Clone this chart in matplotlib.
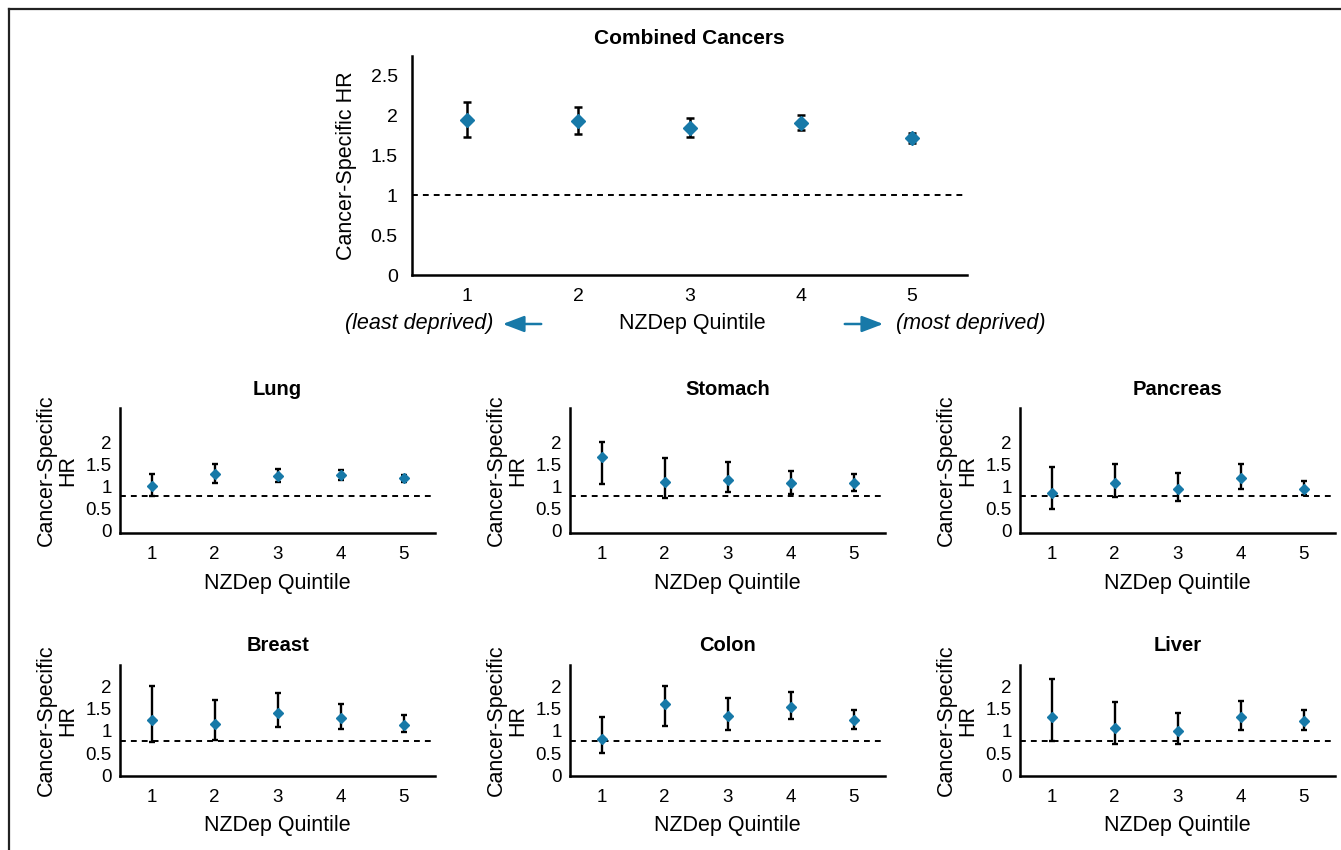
import matplotlib
matplotlib.use("Agg")
import matplotlib.pyplot as plt
from matplotlib.lines import Line2D
from matplotlib.patches import FancyArrowPatch

plt.rcParams['font.family'] = ['Liberation Sans', 'DejaVu Sans']

# ---------------- data ----------------
quintiles = [1, 2, 3, 4, 5]

combined_title = "Combined Cancers"
combined_hr = [1.94, 1.93, 1.845, 1.90, 1.72]
combined_lo = [1.73, 1.77, 1.725, 1.81, 1.65]
combined_hi = [2.17, 2.10, 1.97, 2.00, 1.78]
combined_ref = 1.0
combined_yticks = [0, 0.5, 1, 1.5, 2, 2.5]
combined_yticklabels = ["0", "0.5", "1", "1.5", "2", "2.5"]

site_titles = ["Lung", "Stomach", "Pancreas", "Breast", "Colon", "Liver"]
lung_hr = [1.02, 1.28, 1.24, 1.26, 1.19]
lung_lo = [0.79, 1.08, 1.10, 1.15, 1.10]
lung_hi = [1.28, 1.50, 1.40, 1.38, 1.27]
stomach_hr = [1.67, 1.10, 1.16, 1.07, 1.08]
stomach_lo = [1.05, 0.74, 0.87, 0.83, 0.91]
stomach_hi = [2.02, 1.64, 1.55, 1.36, 1.28]
pancreas_hr = [0.855, 1.08, 0.95, 1.20, 0.95]
pancreas_lo = [0.50, 0.77, 0.68, 0.95, 0.81]
pancreas_hi = [1.45, 1.50, 1.31, 1.50, 1.13]
breast_hr = [1.24, 1.16, 1.41, 1.29, 1.14]
breast_lo = [0.75, 0.80, 1.08, 1.05, 0.97]
breast_hi = [2.01, 1.70, 1.85, 1.60, 1.35]
colon_hr = [0.83, 1.61, 1.33, 1.54, 1.24]
colon_lo = [0.50, 1.12, 1.03, 1.27, 1.05]
colon_hi = [1.31, 2.00, 1.73, 1.88, 1.46]
liver_hr = [1.31, 1.07, 1.00, 1.32, 1.23]
liver_lo = [0.77, 0.70, 0.71, 1.03, 1.03]
liver_hi = [2.16, 1.64, 1.40, 1.68, 1.46]
small_ref = 0.78
small_yticks = [0, 0.5, 1, 1.5, 2]
small_yticklabels = ["0", "0.5", "1", "1.5", "2"]

xlabel = "NZDep Quintile"
ylabel_combined = "Cancer-Specific HR"
ylabel_small = "Cancer-Specific\nHR"
left_note = "(least deprived)"
right_note = "(most deprived)"

# ---------------- style ----------------
W, H = 1341, 850
BLUE = "#1779a8"

fig = plt.figure(figsize=(W / 100, H / 100), dpi=100)


def add_ax(left, right, top, bottom):
    return fig.add_axes([left / W, 1 - bottom / H, (right - left) / W, (bottom - top) / H])


def style_ax(ax, ylim, yticks, yticklabels, tick_fs, ypad):
    ax.set_xlim(0.5, 5.5)
    ax.set_ylim(*ylim)
    for s in ("top", "right"):
        ax.spines[s].set_visible(False)
    for s in ("left", "bottom"):
        ax.spines[s].set_linewidth(1.8)
        ax.spines[s].set_color("black")
    ax.set_xticks(quintiles)
    ax.set_xticklabels([str(q) for q in quintiles], fontsize=tick_fs)
    ax.set_yticks(yticks)
    ax.set_yticklabels(yticklabels, fontsize=tick_fs)
    ax.tick_params(axis="x", length=0, pad=9)
    ax.tick_params(axis="y", length=0, pad=ypad)


def draw_panel(ax, hr, lo, hi, ref, msize, cap, elw):
    ax.axhline(ref, color="black", lw=1.4, ls=(0, (3, 2.6)), zorder=1)
    yerr = [[h - l for h, l in zip(hr, lo)], [u - h for h, u in zip(hr, hi)]]
    ax.errorbar(quintiles, hr, yerr=yerr, fmt="none", ecolor="black",
                elinewidth=elw, capsize=cap, capthick=elw, zorder=2)
    ax.plot(quintiles, hr, ls="none", marker="D", ms=msize, color=BLUE,
            mec=BLUE, zorder=3)


# ---- combined panel ----
axc = add_ax(411.7, 967.3, 56, 275.3)
style_ax(axc, (0, 2.74), combined_yticks, combined_yticklabels, 14, 10)
draw_panel(axc, combined_hr, combined_lo, combined_hi, combined_ref, 7.5, 2.6, 1.8)
axc.set_title(combined_title, fontsize=15, fontweight="bold", pad=9)
axc.set_ylabel(ylabel_combined, fontsize=15.5, labelpad=10)

fig.text(692 / W, 1 - 323 / H, xlabel, fontsize=15.5, ha="center", va="center")
fig.text(493 / W, 1 - 323 / H, left_note, fontsize=15.5, style="italic",
         ha="right", va="center")
fig.text(896 / W, 1 - 323 / H, right_note, fontsize=15.5, style="italic",
         ha="left", va="center")
for x0, x1 in ((544, 500), (842, 886)):
    fig.patches.append(FancyArrowPatch((x0 / W, 1 - 324 / H), (x1 / W, 1 - 324 / H),
                                       transform=fig.transFigure,
                                       arrowstyle="-|>,head_length=1.0,head_width=0.38",
                                       mutation_scale=13, color=BLUE, lw=1.8))

# ---- small panels ----
small_data = [
    (lung_hr, lung_lo, lung_hi),
    (stomach_hr, stomach_lo, stomach_hi),
    (pancreas_hr, pancreas_lo, pancreas_hi),
    (breast_hr, breast_lo, breast_hi),
    (colon_hr, colon_lo, colon_hi),
    (liver_hr, liver_lo, liver_hi),
]
col_lr = [(120, 435), (570, 885), (1020, 1335)]
row_tb = [(407.7, 533.3), (665, 776)]
row_ylim = [(-0.057, 2.785), (-0.01, 2.48)]

for i, (title, (hr, lo, hi)) in enumerate(zip(site_titles, small_data)):
    r, c = divmod(i, 3)
    l, rr = col_lr[c]
    t, b = row_tb[r]
    ax = add_ax(l, rr, t, b)
    style_ax(ax, row_ylim[r], small_yticks, small_yticklabels, 13.5, 6)
    draw_panel(ax, hr, lo, hi, small_ref, 5.5, 2.2, 1.7)
    ax.set_title(title, fontsize=14.5, fontweight="bold", pad=9 if r == 0 else 10)
    ax.set_xlabel(xlabel, fontsize=15.5, labelpad=7)
    ax.set_ylabel(ylabel_small, fontsize=15.5, labelpad=5, linespacing=1.05)

# ---- figure frame (left and top edges) ----
fig.lines.append(Line2D([9 / W, 9 / W], [0, 1 - 9 / H], transform=fig.transFigure,
                        color="#222222", lw=1.6))
fig.lines.append(Line2D([9 / W, 1], [1 - 9 / H, 1 - 9 / H], transform=fig.transFigure,
                        color="#222222", lw=1.6))

fig.savefig("out.png", dpi=100)
